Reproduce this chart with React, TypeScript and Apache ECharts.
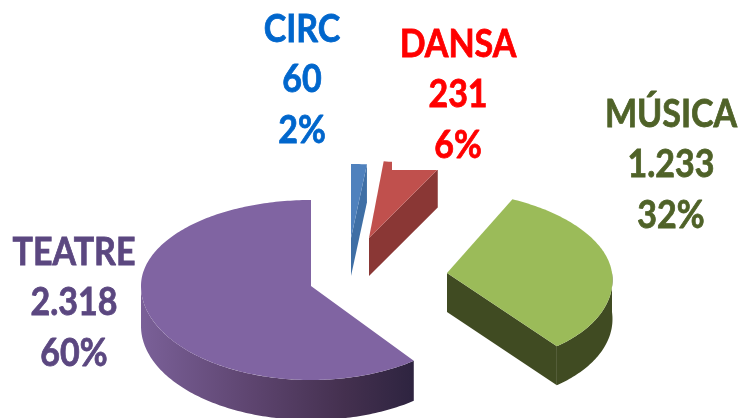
import React, { useEffect, useRef } from "react";
import * as echarts from "echarts";

const categories = ["CIRC", "DANSA", "MÚSICA", "TEATRE"];
const values = [60, 231, 1233, 2318];
const valueLabels = ["60", "231", "1.233", "2.318"];
const percentLabels = ["2%", "6%", "32%", "60%"];

const topColors = ["#4F81BD", "#C0504D", "#9BBB59", "#8064A2"];
const wallColors: any[] = [
  "#3F6FA5",
  "#8A3735",
  "#404B22",
  new echarts.graphic.LinearGradient(142, 0, 412, 0, [
    { offset: 0, color: "#7A6098" },
    { offset: 0.4, color: "#5E4570" },
    { offset: 0.75, color: "#44304F" },
    { offset: 1, color: "#2E2440" },
  ], true),
];
const labelColors = ["#0066CC", "#FF0000", "#4F6228", "#5B4780"];
const labelCenters = [
  [302, 27],
  [458, 42],
  [671, 112],
  [74, 250],
];

// apex x, apex y, rx, ry back, ry front, shear, depth
const layout = [
  [351, 238, 163, 74, 74, 0, 38],
  [369, 238, 150, 77, 77, 0, 38],
  [447, 273, 165, 83, 92, 0.138, 39],
  [311, 286, 170, 86, 94, 0, 40],
];

const total = values.reduce((a, b) => a + b, 0);
const LINE = 50.5;
const FONT = "Lato, 'Open Sans', sans-serif";

function point(g: number[], deg: number): number[] {
  const t = (deg * Math.PI) / 180;
  const s = Math.sin(t);
  const c = Math.cos(t);
  const ry = c > 0 ? g[3] : g[4];
  const y = -c * ry;
  return [g[0] + g[2] * s + g[5] * y, g[1] + y];
}

function renderItem(params: any, api: any) {
  const i = params.dataIndex;
  const g = layout[i];
  const d = g[6];
  let before = 0;
  for (let k = 0; k < i; k++) before += values[k];
  const start = (before / total) * 360;
  const end = start + (api.value(0) / total) * 360;
  const apex = [g[0], g[1]];
  const arc: number[][] = [];
  const steps = Math.max(4, Math.ceil(end - start));
  for (let k = 0; k <= steps; k++) arc.push(point(g, start + ((end - start) * k) / steps));

  const children: any[] = [];
  const face = (pts: number[][], fill: any) => children.push({
    type: "polygon",
    shape: { points: pts },
    style: { fill, stroke: null },
  });

  const w0 = Math.max(start, 90);
  const w1 = Math.min(end, 270);
  if (w1 > w0) {
    const wall: number[][] = [];
    const n = Math.ceil(w1 - w0);
    for (let k = 0; k <= n; k++) wall.push(point(g, w0 + ((w1 - w0) * k) / n));
    const low = wall.slice().reverse().map((p) => [p[0], p[1] + d]);
    face(wall.concat(low), wallColors[i]);
  }
  if (end < 180) {
    const e = point(g, end);
    face([apex, e, [e[0], e[1] + d], [apex[0], apex[1] + d]], wallColors[i]);
  }
  face([apex].concat(arc), topColors[i]);
  return { type: "group", children };
}

const labelGraphics = categories.flatMap((name, i) =>
  [name, valueLabels[i], percentLabels[i]].map((text, line) => ({
    type: "text",
    z: 20,
    x: labelCenters[i][0],
    y: labelCenters[i][1] + line * LINE,
    scaleX: 1,
    scaleY: 1.13,
    style: {
      text,
      fill: labelColors[i],
      stroke: labelColors[i],
      lineWidth: 0.7,
      font: `bold 34px ${FONT}`,
      textAlign: "center",
      textVerticalAlign: "middle",
    },
  }))
);

export default function App() {
  const ref = useRef<HTMLDivElement>(null);
  useEffect(() => {
    const chart = echarts.init(ref.current!, null, { renderer: "svg" });
    chart.setOption({
      animation: false,
      backgroundColor: "#FFFFFF",
      series: [
        {
          type: "custom",
          coordinateSystem: "none",
          renderItem,
          silent: true,
          data: values.map((v) => [v]),
        },
      ],
      graphic: [
        {
          type: "rect",
          z: 10,
          shape: { x: 392, y: 0, width: 50, height: 170 },
          style: { fill: "#FFFFFF" },
        },
        ...labelGraphics,
      ],
    });
    return () => chart.dispose();
  }, []);
  return (
    <div
      ref={ref}
      style={{ position: "fixed", left: 0, top: 0, width: 740, height: 418, filter: "blur(0.5px)" }}
    />
  );
}
